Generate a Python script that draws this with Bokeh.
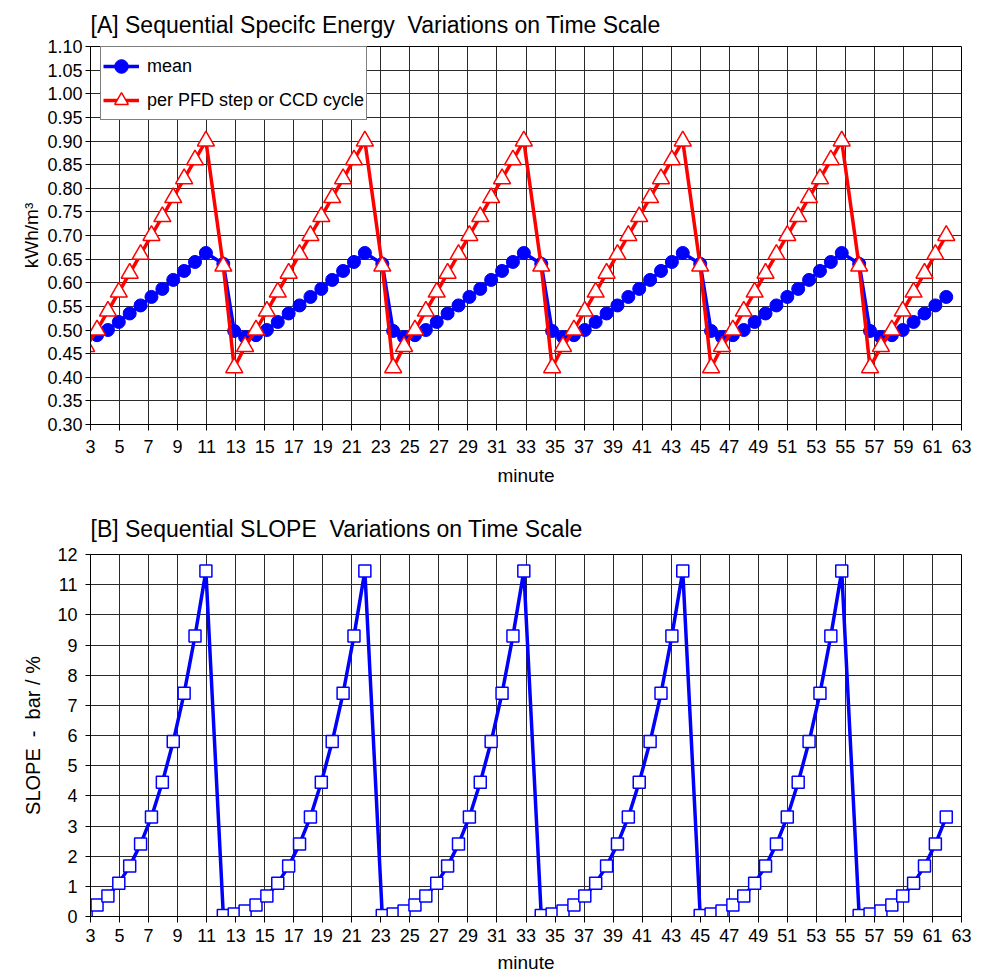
from bokeh.plotting import figure
from bokeh.models import Range1d, FixedTicker, PrintfTickFormatter, Legend, LegendItem
from bokeh.layouts import column
from bokeh.embed import file_html
from bokeh.resources import INLINE

FONT = "Liberation Sans"
NB = "\u00a0"

# ---------------- data ----------------
minutes = [2.70, 3.45, 4.20, 4.95, 5.70, 6.45, 7.20, 7.95, 8.70, 9.45, 10.20, 10.95,
           12.15, 12.90, 13.65, 14.40, 15.15, 15.90, 16.65, 17.40, 18.15, 18.90, 19.65, 20.40, 21.15, 21.90,
           23.10, 23.85, 24.60, 25.35, 26.10, 26.85, 27.60, 28.35, 29.10, 29.85, 30.60, 31.35, 32.10, 32.85,
           34.05, 34.80, 35.55, 36.30, 37.05, 37.80, 38.55, 39.30, 40.05, 40.80, 41.55, 42.30, 43.05, 43.80,
           45.00, 45.75, 46.50, 47.25, 48.00, 48.75, 49.50, 50.25, 51.00, 51.75, 52.50, 53.25, 54.00, 54.75,
           55.95, 56.70, 57.45, 58.20, 58.95, 59.70, 60.45, 61.20, 61.95]

energy_step = [0.465, 0.50, 0.54, 0.58, 0.62, 0.66, 0.70, 0.74, 0.78, 0.82, 0.86, 0.90,
               0.635, 0.42, 0.465, 0.50, 0.54, 0.58, 0.62, 0.66, 0.70, 0.74, 0.78, 0.82, 0.86, 0.90,
               0.635, 0.42, 0.465, 0.50, 0.54, 0.58, 0.62, 0.66, 0.70, 0.74, 0.78, 0.82, 0.86, 0.90,
               0.635, 0.42, 0.465, 0.50, 0.54, 0.58, 0.62, 0.66, 0.70, 0.74, 0.78, 0.82, 0.86, 0.90,
               0.635, 0.42, 0.465, 0.50, 0.54, 0.58, 0.62, 0.66, 0.70, 0.74, 0.78, 0.82, 0.86, 0.90,
               0.635, 0.42, 0.465, 0.50, 0.54, 0.58, 0.62, 0.66, 0.70]

energy_mean = [0.485, 0.489, 0.50, 0.517, 0.535, 0.552, 0.570, 0.587, 0.606, 0.625, 0.644, 0.663,
               0.640, 0.498, 0.485, 0.489, 0.50, 0.517, 0.535, 0.552, 0.570, 0.587, 0.606, 0.625, 0.644, 0.663,
               0.640, 0.498, 0.485, 0.489, 0.50, 0.517, 0.535, 0.552, 0.570, 0.587, 0.606, 0.625, 0.644, 0.663,
               0.640, 0.498, 0.485, 0.489, 0.50, 0.517, 0.535, 0.552, 0.570, 0.587, 0.606, 0.625, 0.644, 0.663,
               0.640, 0.498, 0.485, 0.489, 0.50, 0.517, 0.535, 0.552, 0.570, 0.587, 0.606, 0.625, 0.644, 0.663,
               0.640, 0.498, 0.485, 0.489, 0.50, 0.517, 0.535, 0.552, 0.570]

slope = [0.18, 0.38, 0.68, 1.10, 1.67, 2.40, 3.30, 4.45, 5.80, 7.40, 9.30, 11.45,
         0.03, 0.08, 0.18, 0.38, 0.68, 1.10, 1.67, 2.40, 3.30, 4.45, 5.80, 7.40, 9.30, 11.45,
         0.03, 0.08, 0.18, 0.38, 0.68, 1.10, 1.67, 2.40, 3.30, 4.45, 5.80, 7.40, 9.30, 11.45,
         0.03, 0.08, 0.18, 0.38, 0.68, 1.10, 1.67, 2.40, 3.30, 4.45, 5.80, 7.40, 9.30, 11.45,
         0.03, 0.08, 0.18, 0.38, 0.68, 1.10, 1.67, 2.40, 3.30, 4.45, 5.80, 7.40, 9.30, 11.45,
         0.03, 0.08, 0.18, 0.38, 0.68, 1.10, 1.67, 2.40, 3.30]

x_ticks = [3, 5, 7, 9, 11, 13, 15, 17, 19, 21, 23, 25, 27, 29, 31, 33, 35, 37, 39, 41,
           43, 45, 47, 49, 51, 53, 55, 57, 59, 61, 63]
yA_ticks = [0.30, 0.35, 0.40, 0.45, 0.50, 0.55, 0.60, 0.65, 0.70, 0.75, 0.80, 0.85,
            0.90, 0.95, 1.00, 1.05, 1.10]
yB_ticks = [0, 1, 2, 3, 4, 5, 6, 7, 8, 9, 10, 11, 12]

GRID = "#2a2a2a"


def style(p, yt, xstand, xlab_stand, ystand, ylab_stand):
    p.title.text_font = FONT
    p.title.text_font_size = "23px"
    p.title.text_font_style = "normal"
    p.title.align = "left"
    p.title.text_color = "black"
    p.outline_line_color = "black"
    p.outline_line_width = 1
    p.background_fill_color = "white"
    p.border_fill_color = "white"
    p.xgrid.ticker = FixedTicker(ticks=x_ticks)
    p.ygrid.ticker = FixedTicker(ticks=yt)
    for g in (p.xgrid[0], p.ygrid[0]):
        g.grid_line_color = GRID
        g.grid_line_width = 1
    p.xaxis.ticker = FixedTicker(ticks=x_ticks, minor_ticks=[])
    p.yaxis.ticker = FixedTicker(ticks=yt, minor_ticks=[])
    for ax in (p.xaxis[0], p.yaxis[0]):
        ax.axis_line_color = "black"
        ax.major_tick_line_color = "black"
        ax.major_tick_in = 0
        ax.minor_tick_in = 0
        ax.minor_tick_out = 0
        ax.major_label_text_font = FONT
        ax.major_label_text_font_size = "18px"
        ax.major_label_text_color = "black"
        ax.axis_label_text_font = FONT
        ax.axis_label_text_font_style = "normal"
        ax.axis_label_text_color = "black"
    p.xaxis.major_tick_out = 6
    p.yaxis.major_tick_out = 5
    p.xaxis.major_label_standoff = xstand
    p.xaxis.axis_label_standoff = xlab_stand
    p.yaxis.major_label_standoff = ystand
    p.yaxis.axis_label_standoff = ylab_stand
    p.xaxis.axis_label = "minute"
    p.xaxis.axis_label_text_font_size = "19px"
    p.yaxis.axis_label_text_font_size = "19px"


# ---------------- chart A ----------------
pA = figure(width=981, height=495, output_backend="svg", toolbar_location=None,
            x_range=Range1d(3, 63), y_range=Range1d(0.30, 1.10),
            min_border_left=90, min_border_right=20, min_border_top=46, min_border_bottom=71,
            title="[A] Sequential Specifc Energy " + NB + "Variations on Time Scale")
style(pA, yA_ticks, 9, 9, 3, 2)
pA.title.standoff = 18
pA.yaxis.formatter = PrintfTickFormatter(format="%.2f")
pA.yaxis.axis_label = "kWh/m³"

lb = pA.line(minutes, energy_mean, line_color="#0000FF", line_width=3.5, line_join="round")
sb = pA.scatter(minutes, energy_mean, marker="circle", size=13, fill_color="#0000FF",
                line_color="#0000FF", line_width=1)
lr = pA.line(minutes, energy_step, line_color="#FF0000", line_width=3.5, line_join="round")
sr = pA.scatter(minutes, energy_step, marker="triangle", size=17, fill_color="white",
                line_color="#FF0000", line_width=1.5)

legend = Legend(items=[LegendItem(label="mean", renderers=[lb, sb]),
                       LegendItem(label="per PFD step or CCD cycle", renderers=[lr, sr])],
                location=(10, 304))
legend.label_text_font = FONT
legend.label_text_font_size = "18px"
legend.label_text_color = "black"
legend.border_line_color = "black"
legend.border_line_width = 1
legend.background_fill_color = "white"
legend.background_fill_alpha = 1
legend.padding = 2
legend.spacing = 0
legend.glyph_width = 36
legend.glyph_height = 34
legend.label_height = 34
legend.label_standoff = 8
legend.margin = 0
pA.add_layout(legend)

# ---------------- chart B ----------------
pB = figure(width=981, height=480, output_backend="svg", toolbar_location=None,
            x_range=Range1d(3, 63), y_range=Range1d(0, 12),
            min_border_left=81, min_border_right=13, min_border_top=59, min_border_bottom=59,
            title="[B] Sequential SLOPE " + NB + "Variations on Time Scale")
style(pB, yB_ticks, 6, 7, 8, 10)
pB.title.standoff = 26
pB.yaxis.axis_label = "SLOPE " + NB + "- " + NB + "bar / %"
pB.yaxis.axis_label_text_font_size = "20px"

pB.line(minutes, slope, line_color="#0000FF", line_width=3.5, line_join="round")
pB.scatter(minutes, slope, marker="square", size=12, fill_color="white",
           line_color="#0000FF", line_width=1.5)

layout = column(pA, pB)
open("out.html", "w").write(file_html(layout, INLINE))
